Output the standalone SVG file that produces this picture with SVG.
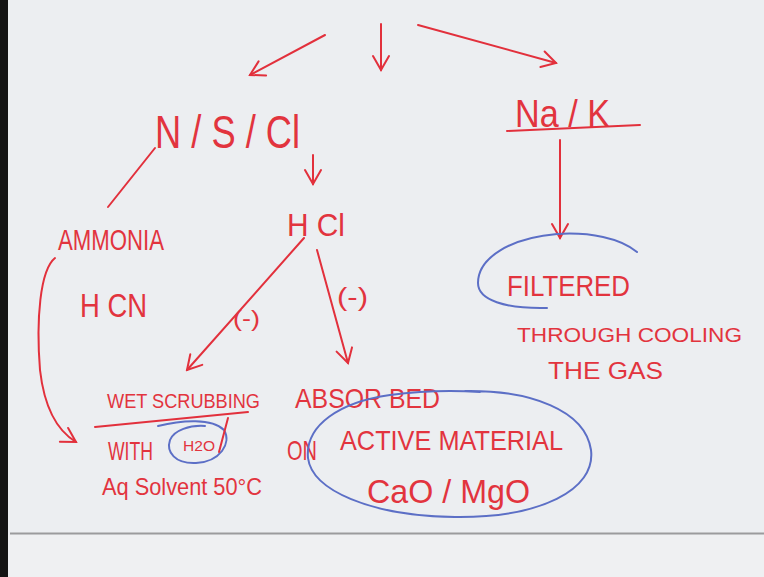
<svg xmlns="http://www.w3.org/2000/svg" width="764" height="577" viewBox="0 0 764 577">
<defs>
<marker id="ah" viewBox="0 0 20 20" refX="18" refY="10" markerWidth="20" markerHeight="20" markerUnits="userSpaceOnUse" orient="auto">
<path d="M4,2 L18,10 L4,18" fill="none" stroke="#e2303c" stroke-width="2" stroke-linecap="round"/>
</marker>
</defs>
<style>
.t{font-family:"Liberation Sans","DejaVu Sans",sans-serif;fill:#e2343e;}
.c{fill:none;stroke:#e2303c;stroke-width:2;stroke-linecap:round;}
.b{fill:none;stroke:#5c6fc6;stroke-width:2;stroke-linecap:round;}
</style>
<rect x="0" y="0" width="764" height="577" fill="#eceef1"/>
<rect x="0" y="535" width="764" height="42" fill="#eff0f2"/>
<line x1="10" y1="533.5" x2="764" y2="533.5" stroke="#9b9b9d" stroke-width="2"/>
<rect x="0" y="0" width="8" height="577" fill="#141414"/>

<g id="connectors">
<path class="c" d="M325,35 L250,75" marker-end="url(#ah)"/>
<path class="c" d="M381,24 L381,70" marker-end="url(#ah)"/>
<path class="c" d="M418,25 L556,63" marker-end="url(#ah)"/>
<path class="c" d="M313,155 L313,184" marker-end="url(#ah)"/>
<path class="c" d="M560,140 L560,238" marker-end="url(#ah)"/>
<path class="c" d="M155,148 L108,207"/>
<path class="c" d="M304,238 L187,370" marker-end="url(#ah)"/>
<path class="c" d="M317,250 L348,363" marker-end="url(#ah)"/>
<path class="c" d="M55,258 C40,270 36,320 40,370 C44,405 56,430 76,442" marker-end="url(#ah)"/>
</g>

<g id="n-root-nsc">
<text class="t" x="155" y="148" font-size="46" textLength="145" lengthAdjust="spacingAndGlyphs">N / S / Cl</text>
</g>
<g id="n-nak">
<text class="t" x="515" y="127" font-size="38" textLength="95" lengthAdjust="spacingAndGlyphs">Na / K</text>
<path class="c" d="M507,131 L640,125"/>
</g>
<g id="n-hcl">
<text class="t" x="287" y="236" font-size="32" textLength="58" lengthAdjust="spacingAndGlyphs">H Cl</text>
</g>
<g id="n-ammonia">
<text class="t" x="58" y="250" font-size="30" textLength="106" lengthAdjust="spacingAndGlyphs">AMMONIA</text>
</g>
<g id="n-hcn">
<text class="t" x="80" y="317" font-size="34" textLength="67" lengthAdjust="spacingAndGlyphs">H CN</text>
</g>
<g id="l-minus1">
<text class="t" x="233" y="326" font-size="22" textLength="27" lengthAdjust="spacingAndGlyphs">(-)</text>
</g>
<g id="l-minus2">
<text class="t" x="337" y="306" font-size="26" textLength="31" lengthAdjust="spacingAndGlyphs">(-)</text>
</g>
<g id="n-wet">
<text class="t" x="107" y="408" font-size="21" textLength="153" lengthAdjust="spacingAndGlyphs">WET SCRUBBING</text>
<path class="c" d="M95,427 L248,412"/>
<text class="t" x="108" y="460" font-size="25" textLength="45" lengthAdjust="spacingAndGlyphs">WITH</text>
<text class="t" x="183" y="451" font-size="14" textLength="32" lengthAdjust="spacingAndGlyphs">H2O</text>
<path class="b" d="M158,426 C182,420 212,418 224,430 C232,443 220,462 196,463 C175,464 166,452 170,440 C174,430 190,425 205,426"/>
<path class="c" d="M228,418 L219,452"/>
<text class="t" x="102" y="495" font-size="24" textLength="160" lengthAdjust="spacingAndGlyphs">Aq Solvent 50°C</text>
</g>
<g id="n-absorbed">
<text class="t" x="295" y="408" font-size="28" textLength="145" lengthAdjust="spacingAndGlyphs">ABSOR BED</text>
<text class="t" x="287" y="460" font-size="28" textLength="30" lengthAdjust="spacingAndGlyphs">ON</text>
<text class="t" x="340" y="450" font-size="28" textLength="223" lengthAdjust="spacingAndGlyphs">ACTIVE  MATERIAL</text>
<text class="t" x="367" y="503" font-size="34" textLength="163" lengthAdjust="spacingAndGlyphs">CaO / MgO</text>
<path class="b" d="M465,391 C530,390 585,410 591,450 C596,490 540,518 455,517 C370,516 312,490 308,458 C305,425 340,402 390,395 C420,391 450,390 480,392"/>
</g>
<g id="n-filtered">
<text class="t" x="507" y="296" font-size="30" textLength="123" lengthAdjust="spacingAndGlyphs">FILTERED</text>
<path class="b" d="M637,252 C620,238 590,232 557,234 C510,238 478,258 478,283 C478,300 505,309 547,308"/>
<text class="t" x="517" y="342" font-size="21" textLength="225" lengthAdjust="spacingAndGlyphs">THROUGH  COOLING</text>
<text class="t" x="548" y="379" font-size="24" textLength="115" lengthAdjust="spacingAndGlyphs">THE  GAS</text>
</g>
</svg>
